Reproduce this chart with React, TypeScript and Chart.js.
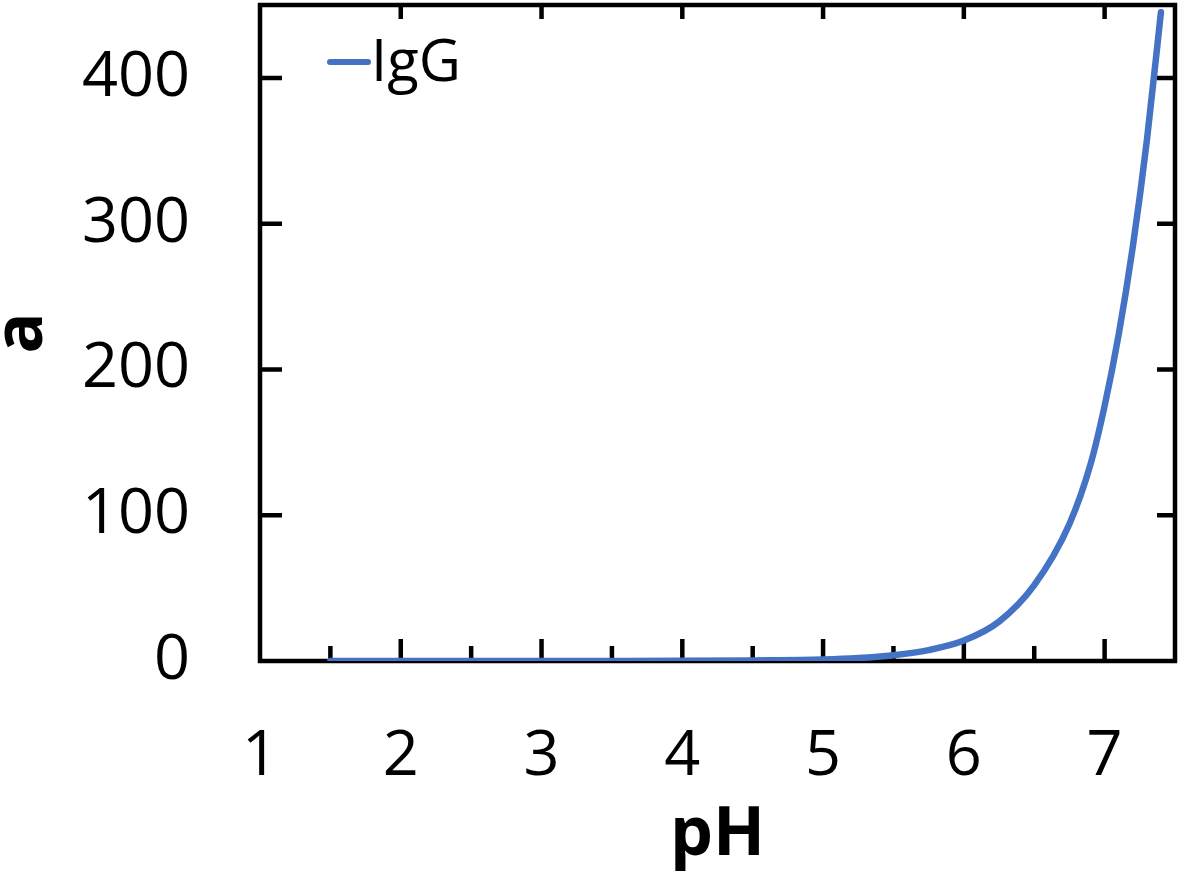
import React, { useEffect, useRef } from "react";
import { Chart, registerables } from "chart.js";

Chart.register(...registerables);

// ---- data ----
const phValues = [1.5, 2, 2.5, 3, 3.5, 4, 4.5, 5, 5.25, 5.5, 5.75, 6, 6.25, 6.5, 6.75, 6.9, 7, 7.1, 7.2, 7.3, 7.4];
const iggValues = [0, 0, 0, 0, 0, 0.1, 0.4, 1, 2, 4, 7.5, 14, 27, 52, 94, 135, 175, 224, 284, 357, 445];
const seriesLabel = "IgG";
const xTitle = "pH";
const yTitle = "a";
const xMajorTicks = [1, 2, 3, 4, 5, 6, 7];
const xMinorTicks = [1.5, 2.5, 3.5, 4.5, 5.5, 6.5];
const yMajorTicks = [0, 100, 200, 300, 400];
const xRange = [1, 7.5];
const yRange = [0, 450];

const FONT = "'Open Sans', sans-serif";
const BLUE = "#4472C4";

const framePlugin = {
  id: "frameTicks",
  beforeDatasetsDraw(chart: any) {
    const { ctx, chartArea } = chart;
    const { left, right, top, bottom } = chartArea;
    const xs = chart.scales.x;
    const ys = chart.scales.y;
    ctx.save();
    ctx.strokeStyle = "#000";
    ctx.lineWidth = 4.5;
    ctx.lineJoin = "miter";
    ctx.strokeRect(left, top, right - left, bottom - top);
    ctx.lineCap = "butt";
    ctx.beginPath();
    xMajorTicks.forEach((v) => {
      if (v <= xRange[0] || v >= xRange[1]) return;
      const px = xs.getPixelForValue(v);
      ctx.moveTo(px, bottom);
      ctx.lineTo(px, bottom - 22);
      ctx.moveTo(px, top);
      ctx.lineTo(px, top + 14);
    });
    xMinorTicks.forEach((v) => {
      const px = xs.getPixelForValue(v);
      ctx.moveTo(px, bottom);
      ctx.lineTo(px, bottom - 15);
    });
    yMajorTicks.forEach((v) => {
      if (v <= yRange[0] || v >= yRange[1]) return;
      const py = ys.getPixelForValue(v);
      ctx.moveTo(left, py);
      ctx.lineTo(left + 22, py);
      ctx.moveTo(right, py);
      ctx.lineTo(right - 18, py);
    });
    ctx.stroke();
    ctx.restore();
  },
};

const legendPlugin = {
  id: "insideLegend",
  afterDraw(chart: any) {
    const { ctx, chartArea } = chart;
    const ds = chart.data.datasets[0];
    const { left, top } = chartArea;
    ctx.save();
    ctx.strokeStyle = ds.borderColor;
    ctx.lineWidth = 6;
    ctx.lineCap = "round";
    ctx.beginPath();
    ctx.moveTo(left + 70, top + 57);
    ctx.lineTo(left + 108, top + 57);
    ctx.stroke();
    ctx.font = `58px ${FONT}`;
    ctx.fillStyle = "#000";
    ctx.textBaseline = "alphabetic";
    ctx.textAlign = "left";
    ctx.fillText(ds.label, left + 111, top + 76);
    ctx.restore();
  },
};

export default function App() {
  const ref = useRef<HTMLCanvasElement>(null);
  useEffect(() => {
    const data = phValues.map((x, i) => ({ x, y: iggValues[i] }));
    const chart = new Chart(ref.current as HTMLCanvasElement, {
      type: "line",
      data: {
        datasets: [
          {
            label: seriesLabel,
            data,
            borderColor: BLUE,
            backgroundColor: BLUE,
            borderWidth: 6.5,
            pointRadius: 0,
            cubicInterpolationMode: "monotone",
            borderCapStyle: "round",
            fill: false,
          },
        ],
      },
      options: {
        animation: false,
        responsive: false,
        devicePixelRatio: 1,
        layout: { padding: { left: 0, top: 5, right: 6, bottom: 0 } },
        plugins: {
          legend: { display: false },
          tooltip: { enabled: false },
        },
        scales: {
          x: {
            type: "linear",
            min: xRange[0],
            max: xRange[1],
            grid: { display: false, drawTicks: false },
            border: { display: false },
            ticks: {
              stepSize: 1,
              includeBounds: false,
              autoSkip: false,
              maxRotation: 0,
              padding: 58,
              color: "#000",
              font: { family: FONT, size: 63 },
            },
            title: {
              display: true,
              text: xTitle,
              color: "#000",
              font: { family: FONT, size: 68, weight: "bold" },
              padding: { top: 0, bottom: 8 },
            },
            afterFit: (scale: any) => {
              scale.height = 884 - 661;
              scale.paddingLeft = 0;
              scale.paddingRight = 0;
            },
          },
          y: {
            type: "linear",
            min: yRange[0],
            max: yRange[1],
            grid: { display: false, drawTicks: false },
            border: { display: false },
            ticks: {
              stepSize: 100,
              includeBounds: false,
              padding: 70,
              color: "#000",
              font: { family: FONT, size: 63 },
            },
            title: {
              display: true,
              text: yTitle,
              color: "#000",
              font: { family: FONT, size: 68, weight: "bold" },
              padding: { top: -18, bottom: 0 },
            },
            afterFit: (scale: any) => {
              scale.width = 260;
              scale.paddingTop = 0;
              scale.paddingBottom = 0;
            },
          },
        },
      },
      plugins: [framePlugin, legendPlugin],
    } as any);
    return () => chart.destroy();
  }, []);
  return (
    <div style={{ position: "absolute", left: 0, top: 0, width: 1181, height: 884, background: "#fff" }}>
      <canvas ref={ref} width={1181} height={884} style={{ display: "block" }} />
    </div>
  );
}
